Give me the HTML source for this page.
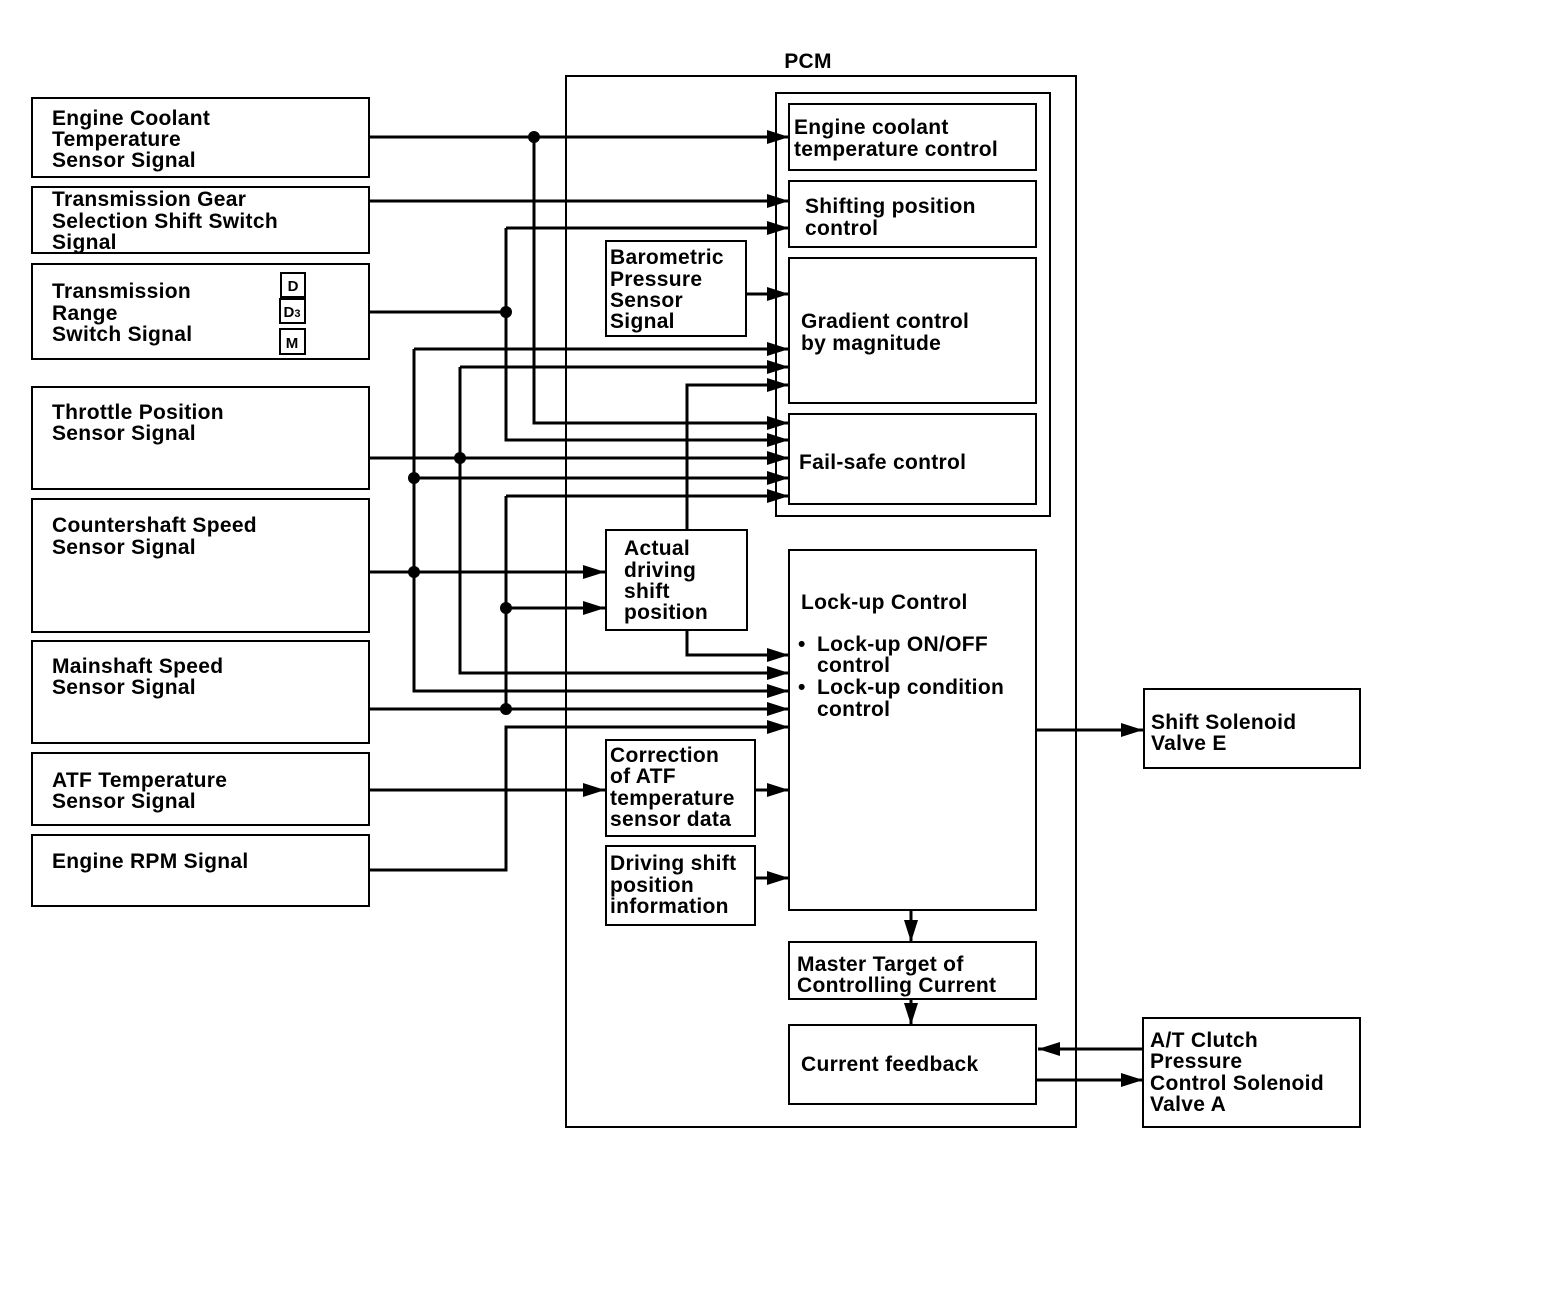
<!DOCTYPE html>
<html><head><meta charset="utf-8"><style>
html,body{margin:0;padding:0;background:#fff;}
svg{display:block;}
text{font-family:"Liberation Sans",Arial,sans-serif;font-weight:bold;font-size:21px;letter-spacing:0.3px;fill:#000;}
</style></head><body>
<svg width="1568" height="1300" viewBox="0 0 1568 1300" xmlns="http://www.w3.org/2000/svg">
<defs>
<marker id="a" markerUnits="userSpaceOnUse" markerWidth="24" markerHeight="16" refX="22" refY="7" orient="auto">
<path d="M0,0 L22,7 L0,14 Z" fill="#000"/>
</marker>
</defs>
<g fill="none" stroke="#000" stroke-width="2">
<rect x="32" y="98" width="337" height="79"/>
<rect x="32" y="187" width="337" height="66"/>
<rect x="32" y="264" width="337" height="95"/>
<rect x="32" y="387" width="337" height="102"/>
<rect x="32" y="499" width="337" height="133"/>
<rect x="32" y="641" width="337" height="102"/>
<rect x="32" y="753" width="337" height="72"/>
<rect x="32" y="835" width="337" height="71"/>
<rect x="281" y="273" width="24" height="24"/>
<rect x="280" y="299" width="25" height="24"/>
<rect x="280" y="329" width="25" height="25"/>
<rect x="566" y="76" width="510" height="1051"/>
<rect x="776" y="93" width="274" height="423"/>
<rect x="789" y="104" width="247" height="66"/>
<rect x="789" y="181" width="247" height="66"/>
<rect x="789" y="258" width="247" height="145"/>
<rect x="789" y="414" width="247" height="90"/>
<rect x="606" y="241" width="140" height="95"/>
<rect x="606" y="530" width="141" height="100"/>
<rect x="789" y="550" width="247" height="360"/>
<rect x="606" y="740" width="149" height="96"/>
<rect x="606" y="846" width="149" height="79"/>
<rect x="789" y="942" width="247" height="57"/>
<rect x="789" y="1025" width="247" height="79"/>
<rect x="1144" y="689" width="216" height="79"/>
<rect x="1143" y="1018" width="217" height="109"/>
</g>
<g fill="none" stroke="#000" stroke-width="3">
<path d="M369,137 H789" marker-end="url(#a)"/>
<path d="M369,201 H789" marker-end="url(#a)"/>
<path d="M506,228 H789" marker-end="url(#a)"/>
<path d="M534,137 V423 H789" marker-end="url(#a)"/>
<path d="M369,312 H506"/>
<path d="M506,228 V440 H789" marker-end="url(#a)"/>
<path d="M746,294 H789" marker-end="url(#a)"/>
<path d="M414,349 H789" marker-end="url(#a)"/>
<path d="M414,349 V691 H789" marker-end="url(#a)"/>
<path d="M460,367 H789" marker-end="url(#a)"/>
<path d="M460,367 V673 H789" marker-end="url(#a)"/>
<path d="M687,530 V385 H789" marker-end="url(#a)"/>
<path d="M369,458 H789" marker-end="url(#a)"/>
<path d="M414,478 H789" marker-end="url(#a)"/>
<path d="M506,496 H789" marker-end="url(#a)"/>
<path d="M506,496 V709"/>
<path d="M369,572 H605" marker-end="url(#a)"/>
<path d="M506,608 H605" marker-end="url(#a)"/>
<path d="M687,630 V655 H789" marker-end="url(#a)"/>
<path d="M369,709 H789" marker-end="url(#a)"/>
<path d="M369,870 H506 V727 H789" marker-end="url(#a)"/>
<path d="M369,790 H605" marker-end="url(#a)"/>
<path d="M755,790 H789" marker-end="url(#a)"/>
<path d="M755,878 H789" marker-end="url(#a)"/>
<path d="M911,910 V942" marker-end="url(#a)"/>
<path d="M911,999 V1025" marker-end="url(#a)"/>
<path d="M1036,730 H1143" marker-end="url(#a)"/>
<path d="M1143,1049 H1038" marker-end="url(#a)"/>
<path d="M1036,1080 H1143" marker-end="url(#a)"/>
</g>
<g fill="#000">
<circle cx="534" cy="137" r="6"/>
<circle cx="506" cy="312" r="6"/>
<circle cx="460" cy="458" r="6"/>
<circle cx="414" cy="478" r="6"/>
<circle cx="414" cy="572" r="6"/>
<circle cx="506" cy="608" r="6"/>
<circle cx="506" cy="709" r="6"/>
</g>
<text x="52" y="125">Engine Coolant</text>
<text x="52" y="146">Temperature</text>
<text x="52" y="167">Sensor Signal</text>
<text x="52" y="206">Transmission Gear</text>
<text x="52" y="228">Selection Shift Switch</text>
<text x="52" y="249">Signal</text>
<text x="52" y="298">Transmission</text>
<text x="52" y="320">Range</text>
<text x="52" y="341">Switch Signal</text>
<text x="293" y="291" text-anchor="middle" style="font-size:15px;letter-spacing:0">D</text>
<text x="292" y="317" text-anchor="middle" style="font-size:15px;letter-spacing:0">D<tspan style="font-size:11px">3</tspan></text>
<text x="292" y="348" text-anchor="middle" style="font-size:15px;letter-spacing:0">M</text>
<text x="52" y="419">Throttle Position</text>
<text x="52" y="440">Sensor Signal</text>
<text x="52" y="532">Countershaft Speed</text>
<text x="52" y="554">Sensor Signal</text>
<text x="52" y="673">Mainshaft Speed</text>
<text x="52" y="694">Sensor Signal</text>
<text x="52" y="787">ATF Temperature</text>
<text x="52" y="808">Sensor Signal</text>
<text x="52" y="868">Engine RPM Signal</text>
<text x="808" y="68" text-anchor="middle">PCM</text>
<text x="794" y="134">Engine coolant</text>
<text x="794" y="156">temperature control</text>
<text x="805" y="213">Shifting position</text>
<text x="805" y="235">control</text>
<text x="610" y="264">Barometric</text>
<text x="610" y="286">Pressure</text>
<text x="610" y="307">Sensor</text>
<text x="610" y="328">Signal</text>
<text x="801" y="328">Gradient control</text>
<text x="801" y="350">by magnitude</text>
<text x="799" y="469">Fail-safe control</text>
<text x="624" y="555">Actual</text>
<text x="624" y="577">driving</text>
<text x="624" y="598">shift</text>
<text x="624" y="619">position</text>
<text x="801" y="609">Lock-up Control</text>
<text x="798" y="651">•</text>
<text x="817" y="651">Lock-up ON/OFF</text>
<text x="817" y="672">control</text>
<text x="798" y="694">•</text>
<text x="817" y="694">Lock-up condition</text>
<text x="817" y="716">control</text>
<text x="610" y="762">Correction</text>
<text x="610" y="783">of ATF</text>
<text x="610" y="805">temperature</text>
<text x="610" y="826">sensor data</text>
<text x="610" y="870">Driving shift</text>
<text x="610" y="892">position</text>
<text x="610" y="913">information</text>
<text x="797" y="971">Master Target of</text>
<text x="797" y="992">Controlling Current</text>
<text x="801" y="1071">Current feedback</text>
<text x="1151" y="729">Shift Solenoid</text>
<text x="1151" y="750">Valve E</text>
<text x="1150" y="1047">A/T Clutch</text>
<text x="1150" y="1068">Pressure</text>
<text x="1150" y="1090">Control Solenoid</text>
<text x="1150" y="1111">Valve A</text>
</svg>
</body></html>
